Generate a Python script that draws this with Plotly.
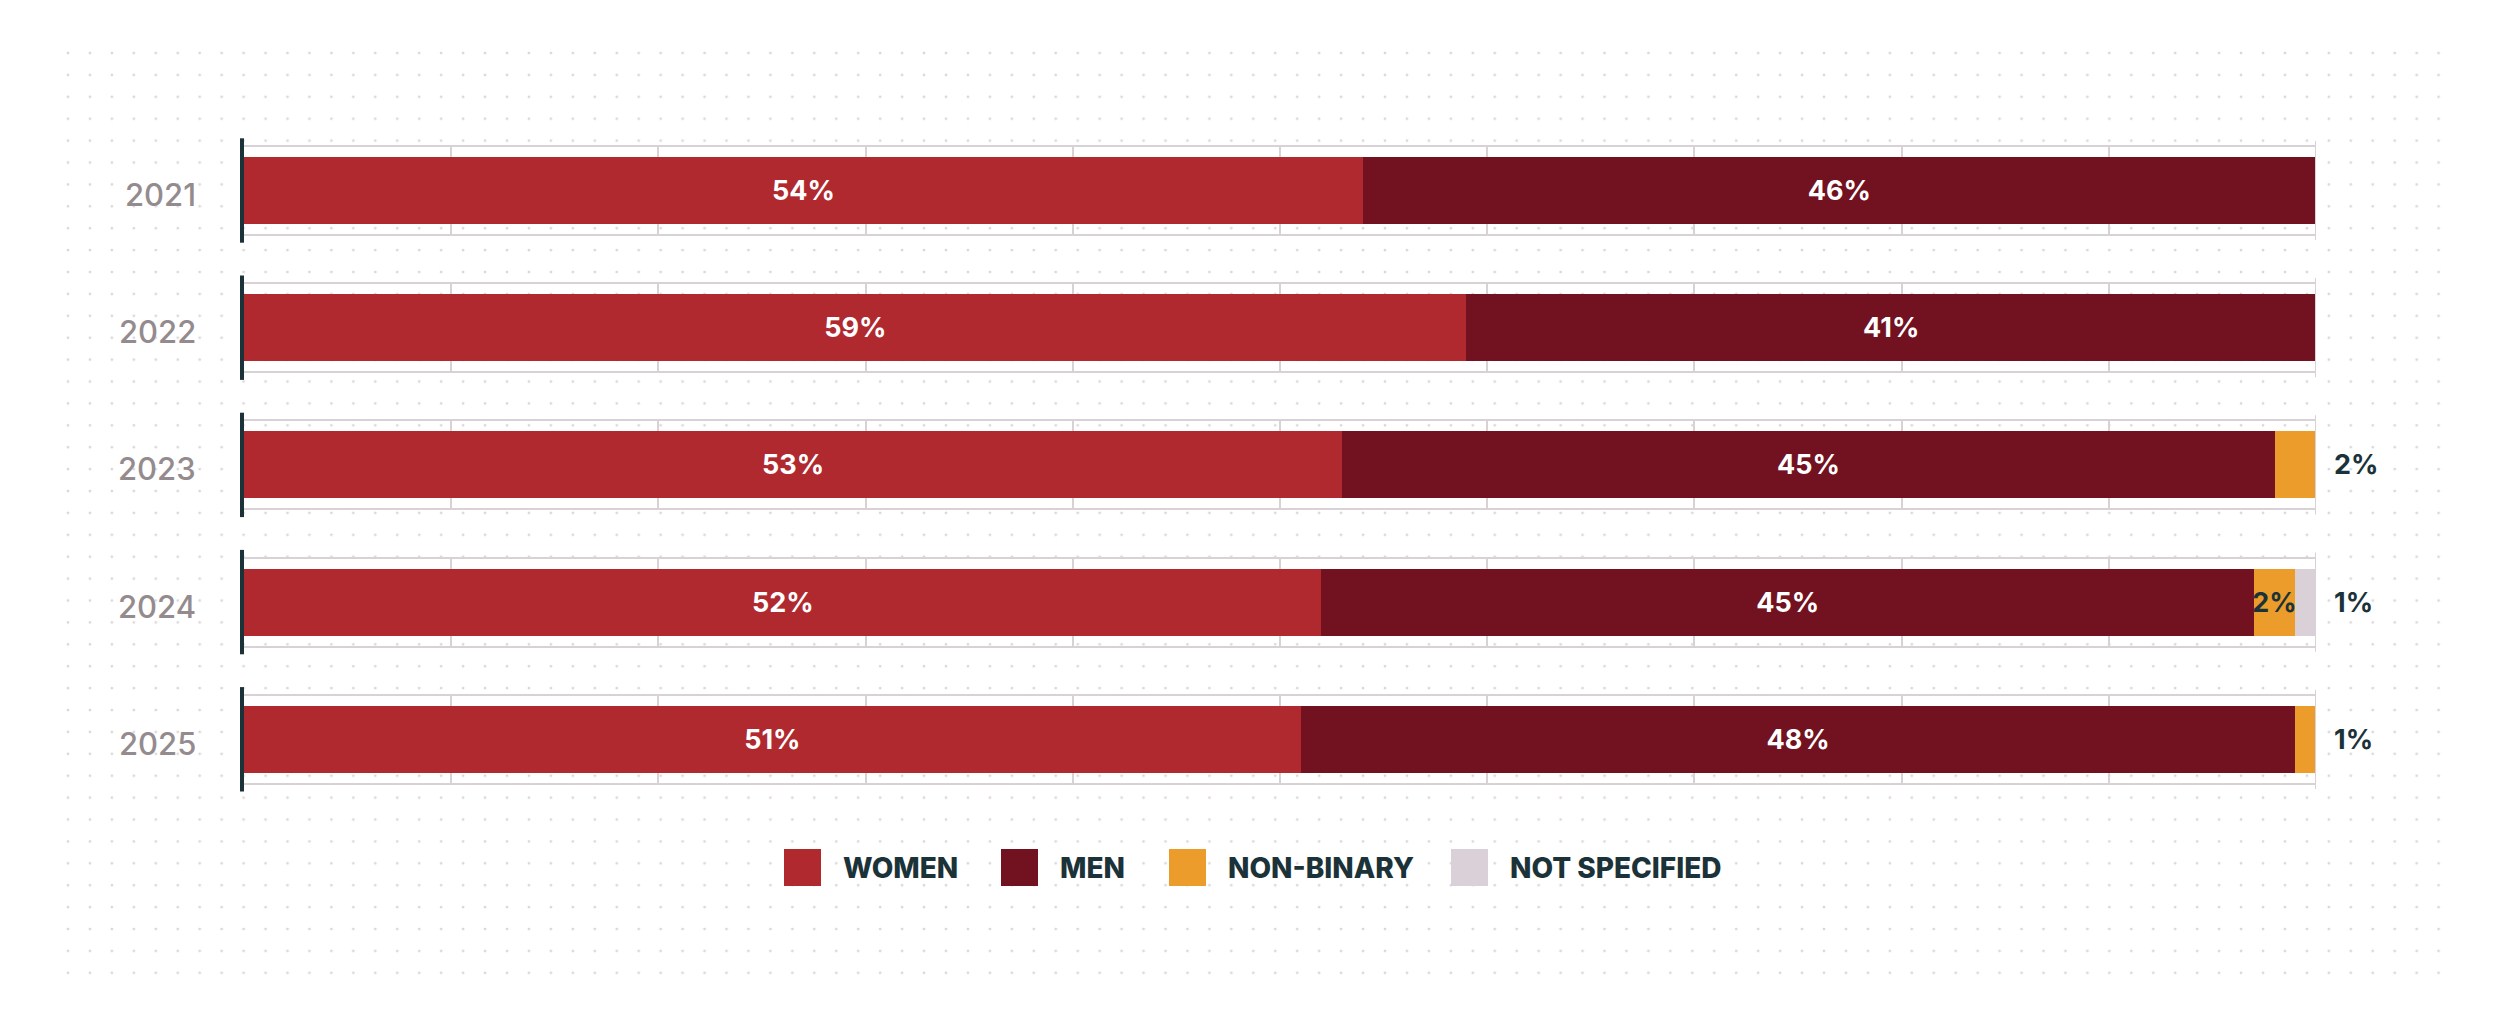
import base64
import plotly.graph_objects as go

# ---------------- data ----------------
years = ["2021", "2022", "2023", "2024", "2025"]
series_names = ["WOMEN", "MEN", "NON-BINARY", "NOT SPECIFIED"]
women = [54, 59, 53, 52, 51]
men = [46, 41, 45, 45, 48]
non_binary = [0, 0, 2, 2, 1]
not_specified = [0, 0, 0, 1, 0]
x_ticks = [0, 10, 20, 30, 40, 50, 60, 70, 80, 90, 100]

# ---------------- style ----------------
OFF = 8                      # default page body margin
W, H = 2500 - OFF, 1024 - OFF
colors = ["#b0292f", "#721120", "#eb9c2a", "#d9d1d7"]
inside_text_colors = ["#ffffff", "#ffffff", "#1b3239", "#1b3239"]
DARK = "#1b3239"
GRID = "#d8d2d6"
YEAR_COLOR = "#948b8e"
FONT = "Inter"
LABEL_SIZE = 27


def px(x):
    return (x - OFF) / W


def py(y):
    return 1 - (y - OFF) / H


plot_left, plot_right = 244, 2316
rule_x = 242
row_top0, row_h, row_step = 147, 87, 137.2

series_values = [women, men, non_binary, not_specified]

fig = go.Figure()

# dotted background as an image (decoration only)
svg = f'''<svg xmlns="http://www.w3.org/2000/svg" width="{W}" height="{H}" viewBox="0 0 {W} {H}">
<defs><pattern id="p" x="{57 - OFF}" y="{42 - OFF}" width="21.95" height="21.9" patternUnits="userSpaceOnUse">
<circle cx="11" cy="11" r="1.4" fill="#dcd6d9"/></pattern></defs>
<rect x="{57 - OFF}" y="{42 - OFF}" width="2390" height="942" fill="url(#p)"/></svg>'''
src = "data:image/svg+xml;base64," + base64.b64encode(svg.encode()).decode()
fig.add_layout_image(dict(source=src, xref="paper", yref="paper", x=0, y=1,
                          sizex=1, sizey=1, sizing="stretch", xanchor="left",
                          yanchor="top", layer="below"))

layout_axes = {}
annotations = []
shapes = []
for r, year in enumerate(years):
    ax = "" if r == 0 else str(r + 1)
    xa, ya = "x" + ax, "y" + ax
    top = row_top0 + r * row_step
    bottom = top + row_h
    vals = [s[r] for s in series_values]
    nonzero = [i for i, v in enumerate(vals) if v > 0]
    last = nonzero[-1]
    for i, name in enumerate(series_names):
        v = vals[i]
        outside = (i == last and v < 5)
        txt = f"{v}%" if (v > 0 and not outside) else ""
        fig.add_trace(go.Bar(
            x=[v], y=[year], orientation="h", name=name,
            marker=dict(color=colors[i], line=dict(width=0)),
            text=[txt], textposition="inside", insidetextanchor="middle",
            textangle=0,
            textfont=dict(color=inside_text_colors[i], size=LABEL_SIZE,
                          family=FONT, weight=700),
            xaxis=xa, yaxis=ya, showlegend=False, hoverinfo="x+name",
        ))
        if v > 0 and outside:
            annotations.append(dict(
                x=100, y=0.5, xref=xa, yref=ya + " domain", text=f"{v}%",
                showarrow=False, xanchor="left", yanchor="middle", xshift=16,
                font=dict(color=DARK, size=LABEL_SIZE, family=FONT, weight=700)))
    # year label
    annotations.append(dict(
        x=0, y=0.5, xref=xa, yref=ya + " domain", text=year,
        showarrow=False, xanchor="right", yanchor="middle",
        xshift=-46, yshift=-4,
        font=dict(color=YEAR_COLOR, size=31, family=FONT, weight=500)))
    layout_axes["xaxis" + ax] = dict(
        domain=[px(plot_left), px(plot_right)], range=[0, 100],
        tickvals=x_ticks, showticklabels=False, showgrid=True,
        gridcolor=GRID, gridwidth=1.5, zeroline=False,
        showline=True, mirror=True, linecolor=GRID, linewidth=2,
        anchor=ya, fixedrange=True, automargin=False,
    )
    layout_axes["yaxis" + ax] = dict(
        type="category", range=[-0.5, 0.5],
        domain=[py(bottom), py(top)], anchor=xa,
        showline=False, showgrid=False, zeroline=False, ticks="",
        showticklabels=False, automargin=False, fixedrange=True,
    )
    # dark left rule and right rule slightly taller than the panel
    shapes.append(dict(type="line", xref="paper", yref=ya + " domain",
                       x0=px(rule_x), x1=px(rule_x),
                       y0=-0.1, y1=1.1, line=dict(color=DARK, width=4)))
    shapes.append(dict(type="line", xref=xa, yref=ya + " domain", x0=100, x1=100,
                       y0=-0.07, y1=1.07, line=dict(color=GRID, width=2)))

# legend (manual, large square swatches)
legend_x = [784, 1001, 1169, 1451]
sq = 37
leg_top = 849
for i, name in enumerate(series_names):
    x0 = legend_x[i]
    shapes.append(dict(type="rect", xref="paper", yref="paper",
                       x0=px(x0), x1=px(x0 + sq),
                       y0=py(leg_top + sq), y1=py(leg_top),
                       fillcolor=colors[i], line=dict(width=0)))
    annotations.append(dict(
        x=px(x0 + sq + 20), y=py(leg_top + sq / 2),
        xref="paper", yref="paper", text=name, showarrow=False,
        xanchor="left", yanchor="middle",
        font=dict(color=DARK, size=28, family=FONT, weight=800)))

fig.update_layout(
    width=W, height=H,
    margin=dict(l=0, r=0, t=0, b=0, autoexpand=False),
    paper_bgcolor="#ffffff", plot_bgcolor="rgba(0,0,0,0)",
    barmode="stack", bargap=0.23,
    uniformtext=dict(minsize=LABEL_SIZE, mode="show"),
    showlegend=False,
    annotations=annotations, shapes=shapes,
    font=dict(family=FONT),
    **layout_axes,
)

fig.write_html("out.html")
